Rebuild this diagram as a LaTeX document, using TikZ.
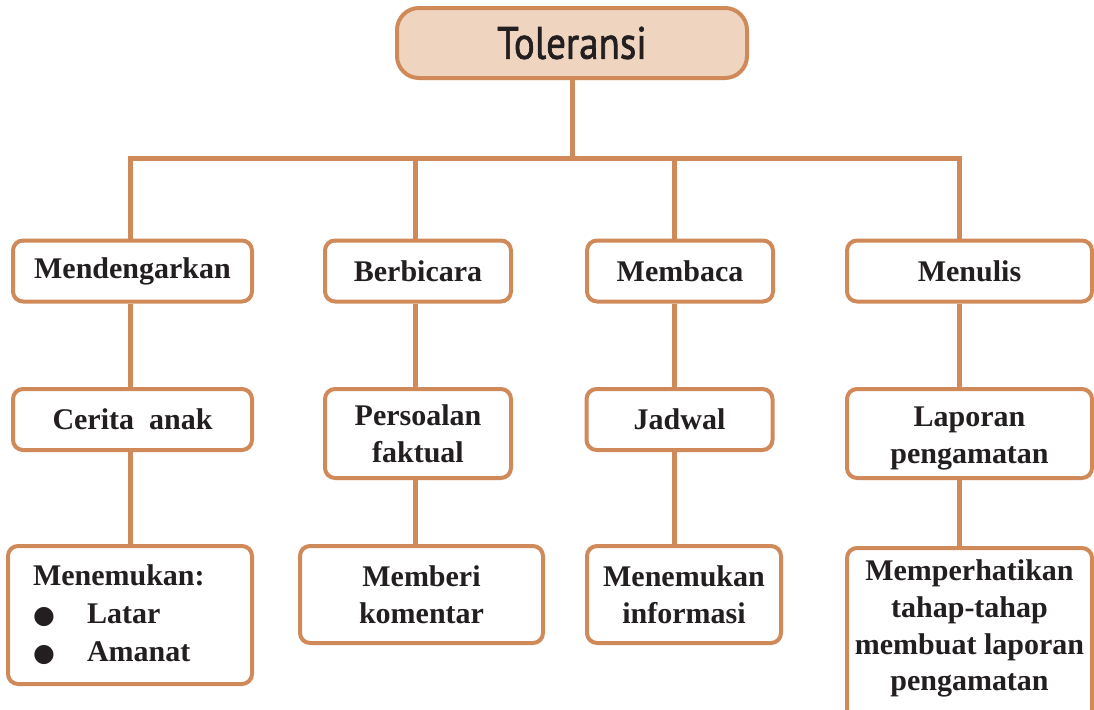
\documentclass[tikz,border=0pt]{standalone}
\usepackage{fontspec}
\usepackage{graphicx}
\setmainfont{Liberation Serif}
\newfontfamily\tolfont[FakeBold=1.6]{PT Sans}
\newfontfamily\dejavu{DejaVu Sans}
\usetikzlibrary{backgrounds}
\definecolor{lineor}{HTML}{D08A5A}
\definecolor{tolfill}{HTML}{EFD5C0}
\definecolor{txt}{HTML}{231F20}
\newcommand{\bul}{\makebox[27pt][l]{\dejavu\fontsize{12.5}{12}\selectfont ●}}
\begin{document}
\begin{tikzpicture}[x=0.5pt,y=-0.5pt,
  conn/.style={draw=lineor,line width=2.5pt},
  box/.style={draw=lineor,line width=2pt,rounded corners=5pt,fill=white,text=txt,
    font=\fontsize{15}{18.5}\selectfont\bfseries,align=center,inner sep=2pt},
  topbox/.style={box,fill=tolfill,rounded corners=11pt,font=\tolfont\fontsize{19.5}{20}\selectfont},
  wA/.style={minimum width=119.5pt},
  wB/.style={minimum width=93pt},
  wC/.style={minimum width=122.5pt},
  hone/.style={minimum height=30.5pt},
  htwo/.style={minimum height=44.5pt}]
\path[use as bounding box,clip] (0,0) rectangle (1094,709);

\node[topbox,minimum width=175pt,minimum height=35pt] (tol) at (572,43) {\scalebox{1.0}[1.16]{Toleransi}};

\node[box,wA,hone] (m1) at (132.5,271) {Mendengarkan};
\node[box,wB,hone] (m2) at (418,271) {Berbicara};
\node[box,wB,hone] (m3) at (680,271) {Membaca};
\node[box,wC,hone] (m4) at (969.5,271) {Menulis};

\node[box,wA,hone] (c1) at (132.5,419.5) {Cerita\ \ anak};
\node[box,wB,htwo] (c2) at (418,433.5) {Persoalan\\faktual};
\node[box,wB,hone] (c3) at (679.5,419.5) {Jadwal};
\node[box,wC,htwo] (c4) at (969.5,433.5) {\rule{0pt}{14.5pt}Laporan\\pengamatan};

\node[box,minimum width=122pt,minimum height=69pt,text width=97pt,inner xsep=12.5pt,align=left,
  font=\fontsize{15}{19}\selectfont\bfseries] (d1) at (130,615)
  {Menemukan:\\\bul Latar\\\bul Amanat};
\node[box,minimum width=121.5pt,minimum height=48.5pt] (d2) at (421.5,594.5) {Memberi\\komentar};
\node[box,minimum width=97pt,minimum height=48.5pt] (d3) at (684,594.5) {Menemukan\\informasi};
\node[box,wC,anchor=north,inner ysep=6pt,font=\fontsize{15}{18.3}\selectfont\bfseries] (d4) at (969.5,546)
  {Memperhatikan\\tahap-tahap\\membuat laporan\\pengamatan\\[14pt]\mbox{}};

\coordinate (b1) at (130,158);
\coordinate (b2) at (415,158);
\coordinate (b3) at (674,158);
\coordinate (b4) at (959,158);

\begin{scope}[on background layer]
\draw[conn] (tol.south) -- (tol.south |- b1);
\draw[conn,line join=miter] (m1.north -| b1) -- (b1) -- (b4) -- (m4.north -| b4);
\draw[conn] (b2) -- (m2.north -| b2);
\draw[conn] (b3) -- (m3.north -| b3);
\draw[conn] (m1.south -| b1) -- (c1.north -| b1);
\draw[conn] (c1.south -| b1) -- (d1.north -| b1);
\draw[conn] (m2.south -| b2) -- (c2.north -| b2);
\draw[conn] (c2.south -| b2) -- (d2.north -| b2);
\draw[conn] (m3.south -| b3) -- (c3.north -| b3);
\draw[conn] (c3.south -| b3) -- (d3.north -| b3);
\draw[conn] (m4.south -| b4) -- (c4.north -| b4);
\draw[conn] (c4.south -| b4) -- (d4.north -| b4);
\end{scope}
\end{tikzpicture}
\end{document}
